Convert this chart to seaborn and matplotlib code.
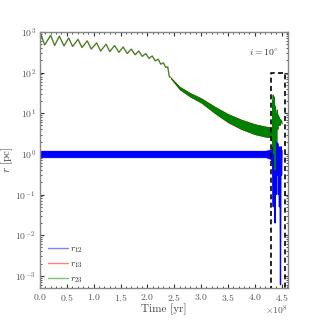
import numpy as np
import pandas as pd
import matplotlib
matplotlib.use('Agg')
import matplotlib.pyplot as plt
import seaborn as sns
from matplotlib.ticker import MultipleLocator, LogLocator, NullFormatter

# times in units of 1e8 yr, distances in pc
# r23 (and r13) early oscillating phase: peaks / troughs
t_osc = [0.0, 0.087, 0.199, 0.273, 0.36, 0.447, 0.534, 0.608, 0.708, 0.782,
         0.88, 0.955, 1.055, 1.13, 1.23, 1.30, 1.39, 1.47, 1.55, 1.625,
         1.70, 1.77, 1.84, 1.905, 1.97, 2.03, 2.09, 2.145, 2.20, 2.25,
         2.30, 2.34, 2.38, 2.41, 2.43]
r23_osc = [1000, 480, 830, 465, 790, 455, 710, 440, 660, 415,
           605, 380, 540, 340, 500, 330, 465, 316, 427, 295,
           380, 275, 339, 251, 295, 224, 257, 195, 214, 162,
           174, 135, 138, 79, 76]

# secular decay phase: band envelope
t_band = [2.43, 2.6, 2.8, 3.0, 3.25, 3.5, 3.75, 4.0, 4.2, 4.32]
r23_hi = [79, 46, 32, 24, 15, 9.8, 7.1, 5.5, 4.8, 4.6]
r23_lo = [72, 38, 25, 18, 10, 5.9, 4.0, 3.0, 2.6, 2.5]

# chaotic end phase
t_end23 = [4.32, 4.33, 4.335, 4.34, 4.345, 4.35, 4.355, 4.36, 4.365, 4.37,
           4.375, 4.38, 4.385, 4.39, 4.40, 4.41, 4.42, 4.43, 4.44, 4.45,
           4.46, 4.47, 4.48, 4.49, 4.50, 4.51]
r23_end = [4.5, 2.0, 20, 1.5, 28, 3.0, 18, 1.0, 25, 4.0,
           12, 0.4, 15, 3.0, 10, 2.0, 12, 4.0, 9.0, 5.0,
           8.0, 5.0, 7.0, 6.0, 6.5, 5.5]

# r12: inner binary band and its end
t12_band = [0.0, 4.20, 4.28, 4.31]
r12_hi = [1.24, 1.24, 1.33, 1.42]
r12_lo = [0.80, 0.80, 0.73, 0.62]
r12_core_hi = [1.21, 1.21, 1.28, 1.35]
r12_core_lo = [0.82, 0.82, 0.76, 0.66]
t_end12 = [4.31, 4.32, 4.335, 4.345, 4.35, 4.36, 4.37, 4.38, 4.39, 4.40,
           4.41, 4.42, 4.43, 4.44, 4.45, 4.46, 4.47, 4.48, 4.49, 4.50, 4.51]
r12_end = [1.0, 0.7, 1.5, 0.05, 1.8, 0.1, 2.0, 0.02, 1.5, 0.1,
           2.0, 0.3, 1.8, 0.1, 1.5, 0.05, 1.2, 0.0006, 1.5, 0.3, 1.2]

# zoom box drawn on the plot
box_t = [4.31, 4.56]
box_r = [1e-4, 100]

labels = [r'$r_{12}$', r'$r_{13}$', r'$r_{23}$']
colors = ['blue', 'red', 'green']

sns.set_theme(style='ticks')
plt.rcParams['font.family'] = 'serif'
plt.rcParams['font.serif'] = ['cmr10', 'DejaVu Serif']
plt.rcParams['mathtext.fontset'] = 'cm'
plt.rcParams['axes.formatter.use_mathtext'] = True
plt.rcParams['axes.unicode_minus'] = False
plt.rcParams['lines.solid_joinstyle'] = 'round'

fig = plt.figure(figsize=(3.2, 3.2), dpi=100)
ax = fig.add_axes([0.125, 0.1, 0.775, 0.8])

E8 = 1e8
osc = pd.DataFrame({'t': np.array(t_osc) * E8, 'r': r23_osc})
end23 = pd.DataFrame({'t': np.array(t_end23) * E8, 'r': r23_end})
end12 = pd.DataFrame({'t': np.array(t_end12) * E8, 'r': r12_end})
tb = np.array(t_band) * E8
t12 = np.array(t12_band) * E8

# r13 sits under r23
sns.lineplot(data=osc, x='t', y='r', color='red', alpha=0.4, lw=0.9,
             estimator=None, sort=False, ax=ax)
ax.fill_between(tb, r23_lo, r23_hi, color='red', lw=0)
sns.lineplot(data=end23, x='t', y='r', color='red', alpha=0.5, lw=0.8,
             estimator=None, sort=False, ax=ax)

# r12
ax.fill_between(t12, r12_lo, r12_hi, color='blue', alpha=0.35, lw=0)
ax.fill_between(t12, r12_core_lo, r12_core_hi, color='blue', lw=0)
sns.lineplot(data=end12, x='t', y='r', color='blue', lw=0.9,
             estimator=None, sort=False, ax=ax)

# r23
sns.lineplot(data=osc, x='t', y='r', color='green', alpha=0.75, lw=0.9,
             estimator=None, sort=False, ax=ax)
ax.fill_between(tb, r23_lo, r23_hi, color='green', lw=0)
sns.lineplot(data=end23, x='t', y='r', color='green', lw=0.8,
             estimator=None, sort=False, ax=ax)

# zoom box
bx = np.array([box_t[0], box_t[0], box_t[1], box_t[1], box_t[0]]) * E8
by = [box_r[0], box_r[1], box_r[1], box_r[0], box_r[0]]
ax.plot(bx, by, color='black', ls=(0, (3, 2)), lw=1.2, clip_on=True)

# legend proxies
for c, lab in zip(colors, labels):
    ax.plot([], [], color=c, alpha=0.5, lw=1, label=lab)
ax.legend(loc='lower left', frameon=False, fontsize=7, handlelength=2.0,
          borderaxespad=0.1, borderpad=0.25, labelspacing=0.45,
          handletextpad=0.2, bbox_to_anchor=(0.02, 0.0))

ax.set_yscale('log')
ax.set_xlim(0, 4.62e8)
ax.set_ylim(5e-4, 1e3)
ax.set_xlabel('Time [yr]', fontsize=8, color='#444444', labelpad=0)
ax.set_ylabel(r'$r$ [pc]', fontsize=8, color='#444444', labelpad=0)
ax.text(0.96, 0.92, r'$i=10^{\circ}$', transform=ax.transAxes,
        ha='right', va='center', fontsize=7, color='#333333')

ax.xaxis.set_major_locator(MultipleLocator(0.5e8))
ax.xaxis.set_minor_locator(MultipleLocator(0.1e8))
ax.yaxis.set_major_locator(LogLocator(base=10, numticks=20))
ax.yaxis.set_minor_locator(LogLocator(base=10, subs=np.arange(2, 10), numticks=20))
ax.yaxis.set_minor_formatter(NullFormatter())
ax.tick_params(which='both', direction='in', top=True, right=True,
               labelsize=7, colors='#333333', labelcolor='#555555')
ax.tick_params(which='major', length=3, width=0.8, pad=3)
ax.tick_params(which='minor', length=1.5, width=0.6)
ax.xaxis.OFFSETTEXTPAD = 0
ax.xaxis.get_offset_text().set_fontsize(7)
ax.xaxis.get_offset_text().set_color('#555555')
for s in ax.spines.values():
    s.set_color('#888888')
    s.set_linewidth(1.0)

fig.savefig('out.png', dpi=100)
